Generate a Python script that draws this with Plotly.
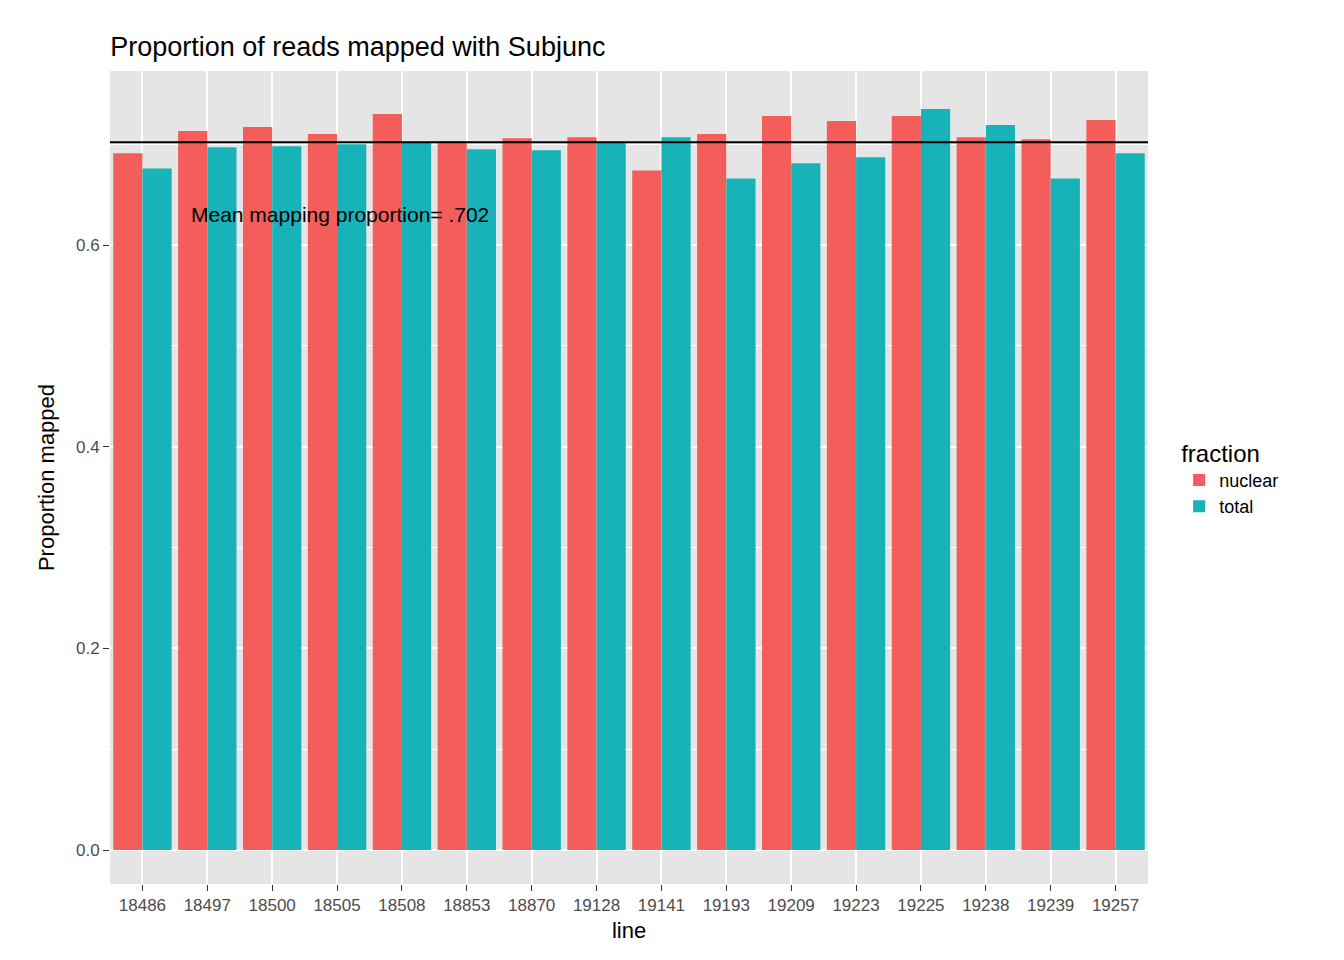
import plotly.graph_objects as go

lines = ["18486", "18497", "18500", "18505", "18508", "18853", "18870", "19128",
         "19141", "19193", "19209", "19223", "19225", "19238", "19239", "19257"]
nuclear = [0.691, 0.713, 0.717, 0.710, 0.730, 0.703, 0.706, 0.707,
           0.674, 0.710, 0.728, 0.723, 0.728, 0.707, 0.705, 0.724]
total = [0.676, 0.697, 0.698, 0.700, 0.702, 0.695, 0.694, 0.702,
         0.707, 0.666, 0.681, 0.687, 0.735, 0.719, 0.666, 0.691]
mean_prop = 0.702

fig = go.Figure()
fig.add_trace(go.Bar(x=lines, y=nuclear, name="nuclear", marker_color="#F35E5A", marker_line_width=0))
fig.add_trace(go.Bar(x=lines, y=total, name="total", marker_color="#18B3B8", marker_line_width=0))
fig.add_hline(y=mean_prop, line_color="black", line_width=2)
fig.add_annotation(x=0.222, y=0.63, xref="paper", yref="y", text="Mean mapping proportion= .702",
                   showarrow=False, xanchor="center", font=dict(size=21, color="black"))

fig.update_layout(
    width=1344, height=960,
    title=dict(text="Proportion of reads mapped with Subjunc", x=0.076, y=0.97,
               font=dict(size=27, color="black")),
    font=dict(family="Liberation Sans, Arial, sans-serif"),
    plot_bgcolor="#E5E5E5", paper_bgcolor="white",
    barmode="group", bargap=0.1, bargroupgap=0,
    margin=dict(l=102, r=204, t=63, b=84, autoexpand=False),
    legend=dict(title=dict(text="fraction", font=dict(size=24, color="black")),
                font=dict(size=18, color="black"), itemsizing="constant",
                x=1.03, y=0.5, yanchor="middle", tracegroupgap=8),
    xaxis=dict(title=dict(text="line", font=dict(size=22, color="black"), standoff=8),
               tickfont=dict(size=17, color="#4D4D4D"), showgrid=True, gridcolor="white",
               gridwidth=2, ticks="outside", tickcolor="#333333", ticklen=6, automargin=False),
    yaxis=dict(title=dict(text="Proportion mapped", font=dict(size=22, color="black")),
               range=[-0.0337, 0.7726], tickvals=[0, 0.2, 0.4, 0.6],
               ticktext=["0.0", "0.2", "0.4", "0.6"], automargin=False,
               tickfont=dict(size=17, color="#4D4D4D"), gridcolor="white", gridwidth=2,
               zeroline=False, ticks="outside", tickcolor="#333333", ticklen=6,
               minor=dict(tickvals=[0.1, 0.3, 0.5, 0.7], showgrid=True, gridcolor="white",
                          gridwidth=1)),
)

fig.write_html("out.html")
